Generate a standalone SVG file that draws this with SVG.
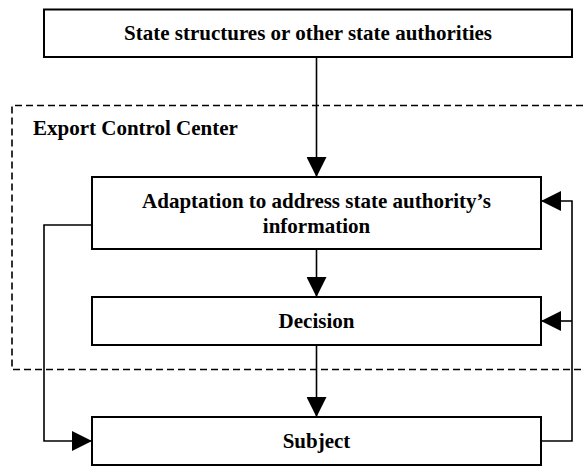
<svg xmlns="http://www.w3.org/2000/svg" width="583" height="468" viewBox="0 0 583 468">
<style>
.box{fill:#fff;stroke:#000;stroke-width:2}
.lbl{font-family:"Liberation Serif","Times New Roman",serif;font-weight:bold;font-size:21px;fill:#000}
.c{text-anchor:middle}
.conn{fill:none;stroke:#000;stroke-width:1.6}
.dash{fill:none;stroke:#000;stroke-width:1.6;stroke-dasharray:7,4}
</style>
<defs>
<marker id="ah" markerUnits="userSpaceOnUse" markerWidth="20" markerHeight="20" refX="20" refY="10" orient="auto" viewBox="0 0 20 20">
<path d="M0,0 L20,10 L0,20 z" fill="#000"/>
</marker>
</defs>
<g id="export-control-center">
<path class="dash" d="M583,105.5 H12 V369.5 H583"/>
<text class="lbl" x="33" y="135">Export Control Center</text>
</g>
<g id="connectors">
<path class="conn" d="M316.5,57 V177" marker-end="url(#ah)"/>
<path class="conn" d="M316.5,249 V297" marker-end="url(#ah)"/>
<path class="conn" d="M316.5,345 V417" marker-end="url(#ah)"/>
<path class="conn" d="M92,225 H44 V441 H92" marker-end="url(#ah)"/>
<path class="conn" d="M541,441 H572 V201 H541" marker-end="url(#ah)"/>
<path class="conn" d="M572,321 H541" marker-end="url(#ah)"/>
</g>
<g id="state-structures">
<rect class="box" x="44" y="9.5" width="528" height="47.5"/>
<text class="lbl c" x="308" y="40">State structures or other state authorities</text>
</g>
<g id="adaptation">
<rect class="box" x="92" y="177" width="449" height="72"/>
<text class="lbl c" x="316.5" y="207.5">Adaptation to address state authority’s</text>
<text class="lbl c" x="316.5" y="232.5">information</text>
</g>
<g id="decision">
<rect class="box" x="92" y="297" width="449" height="48"/>
<text class="lbl c" x="316.5" y="328">Decision</text>
</g>
<g id="subject">
<rect class="box" x="92" y="417" width="449" height="48"/>
<text class="lbl c" x="316.5" y="448">Subject</text>
</g>
</svg>
